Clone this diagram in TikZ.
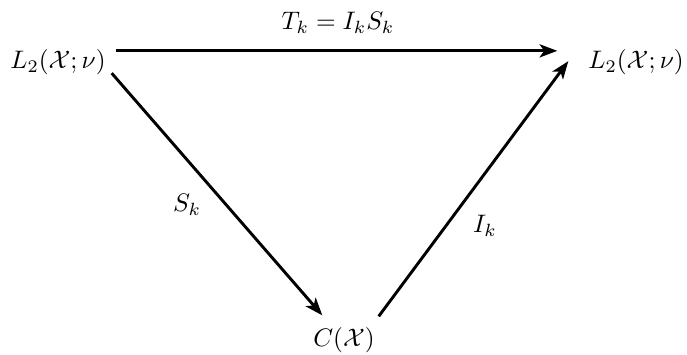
\documentclass[tikz,border=0pt]{standalone}
\usetikzlibrary{arrows.meta,calc}
\begin{document}
\begin{tikzpicture}[x=0.395pt,y=-0.395pt,
  obj/.style={inner sep=0pt,outer sep=0pt},
  lbl/.style={inner sep=0pt},
  arr/.style={line width=1.15pt,-{Stealth[length=7pt,width=5.2pt,inset=1.8pt]}}]
\useasboundingbox (0,0) rectangle (687,354);
\node[obj] (a) at (58,62.5) {$L_2(\mathcal{X};\nu)$};
\node[obj] (b) at (636,62.5) {$L_2(\mathcal{X};\nu)$};
\node[obj] (c) at (344,340) {$C(\mathcal{X})$};
\node[lbl] (t) at (338,23) {$T_k=I_kS_k$};
\node[lbl] (s) at (187,205) {$S_k$};
\node[lbl] (i) at (485,226) {$I_k$};
\draw[arr] ($(a.north east)+(10,1)$) -- ($(b.north west)+(-31,1)$);
\draw[arr] ($(a.south east)+(6,-2)$) -- ($(c.north west)+(9,-12)$);
\draw[arr] ($(c.north east)+(4,-11)$) -- ($(b.south west)+(-20,-14)$);
\end{tikzpicture}
\end{document}
